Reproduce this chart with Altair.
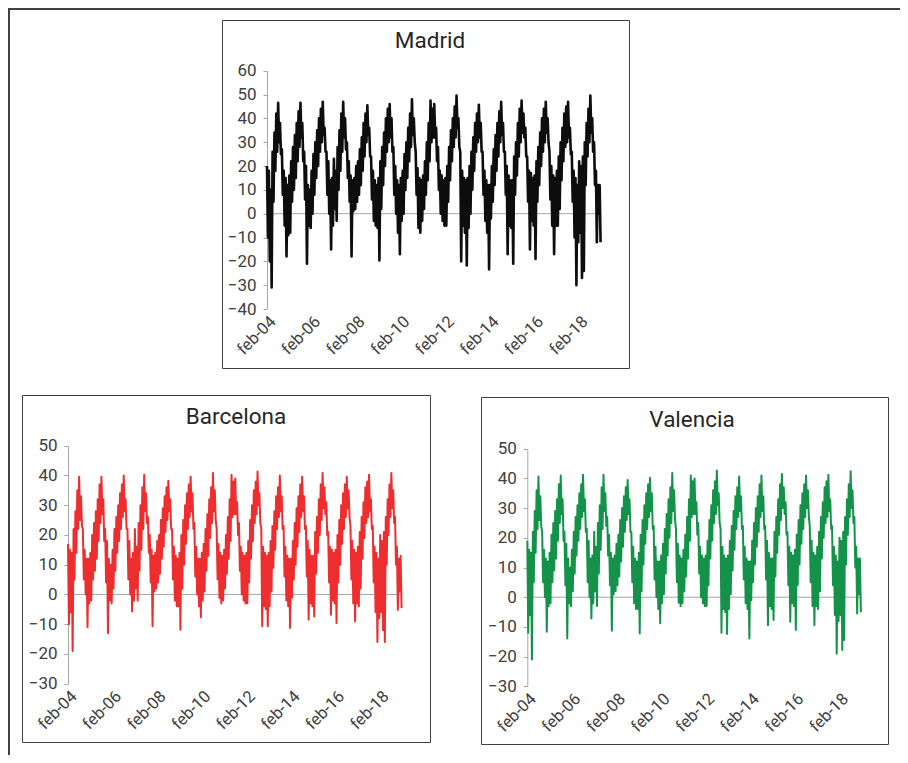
import altair as alt
import pandas as pd

# ---- x axis (months since feb-2004, one high + one low reading per month) ----
tick_values = [0, 24, 48, 72, 96, 120, 144, 168]
tick_labels = ["feb-04", "feb-06", "feb-08", "feb-10", "feb-12", "feb-14", "feb-16", "feb-18"]

# ---- Madrid (rows = feb..jan of each year, 2004..2018) ----
madrid_high = [
    20, 18, 10, 26, 34, 42, 46.5, 38, 27, 18, 15, 12,
    16, 22, 28, 33, 38, 43, 46.5, 38, 26, 20, 12, 10,
    18, 25, 30, 35, 40, 44, 47, 36, 26, 22, 14, 15,
    23, 18, 28, 35, 42, 47, 40, 30, 22, 16, 14, 15,
    20, 22, 27, 32, 38, 42, 45.5, 36, 24, 18, 14, 12,
    15, 22, 28, 34, 40, 44, 46, 40, 28, 20, 14, 12,
    15, 18, 25, 30, 36, 42, 48, 40, 26, 19, 15, 14,
    16, 22, 30, 38, 47.5, 44, 46, 36, 28, 18, 16, 14,
    15, 20, 28, 35, 40, 45, 49.6, 40, 26, 18, 15, 14,
    15, 20, 26, 32, 38, 42, 45.7, 38, 26, 18, 14, 12,
    12, 20, 27, 33, 38, 43, 47, 38, 26, 20, 16, 14,
    14, 24, 30, 38, 44, 47.5, 42, 36, 24, 18, 17, 15,
    16, 22, 28, 34, 40, 44, 47, 40, 26, 20, 16, 15,
    18, 24, 30, 36, 42, 45, 47, 36, 26, 18, 15, 12,
    22, 20, 24, 30, 38, 44, 49.6, 40, 30, 18, 12, 12,
]
madrid_low = [
    -10, -20, -31, 5, 18, 26, 30, 25, 8, -5, -18, -9,
    -8, 5, 10, 15, 22, 28, 32, 22, 6, -21, -5, -6,
    0, 8, 15, 20, 26, 30, 33, 26, 8, 0, -15, -5,
    2, -3, 10, 18, 26, 32, 27, 15, 5, -18, 1, 2,
    5, 8, 12, 18, 24, 30, 33, 24, 6, -3, -5, -6,
    -19.6, 2, 12, 20, 26, 30, 32, 26, 8, 0, -8, -17,
    -3, 0, 10, 15, 22, 28, 33, 30, 8, -6, -8, -3,
    2, 8, 14, 22, 30, 32, 32, 22, 10, 0, -3, -5,
    -5, 5, 14, 22, 28, 32, 36, 28, -20, -5, -8, -21.7,
    -6, 0, 10, 18, 26, 30, 32, 26, 8, -3, -8, -23.4,
    -2, 5, 12, 18, 24, 30, 33, 26, 8, -17, -5, -6,
    -21, 8, 16, 24, 30, 34, 32, 24, 5, -15, -3, -5,
    -19, 5, 12, 20, 26, 30, 34, 30, 6, -5, -17, -5,
    -5, 2, 14, 22, 28, 30, 32, 25, 5, -10, -30, -12,
    -8, -27, -24, 12, 24, 30, 34, 26, 12, -12, 0, -12,
]

# ---- Barcelona ----
barcelona_high = [
    17, 15, 14, 22, 28, 35, 39.6, 33, 22, 15, 12, 12,
    14, 20, 24, 28, 32, 37, 39.6, 32, 22, 18, 12, 10,
    15, 22, 26, 30, 34, 37, 40, 32, 22, 18, 12, 14,
    22, 16, 24, 30, 36, 40.2, 34, 26, 20, 15, 13, 14,
    18, 20, 25, 29, 33, 36, 38.2, 32, 22, 16, 13, 12,
    14, 20, 25, 30, 34, 37, 39.6, 34, 24, 16, 12, 12,
    14, 17, 22, 27, 32, 36, 40.8, 35, 22, 17, 14, 13,
    15, 20, 26, 32, 40.2, 38, 39, 31, 24, 16, 14, 13,
    14, 18, 25, 30, 35, 38, 41.3, 34, 22, 16, 14, 13,
    14, 18, 23, 28, 33, 36, 40, 33, 23, 16, 13, 12,
    12, 18, 24, 29, 33, 37, 39.6, 33, 23, 18, 15, 13,
    13, 21, 26, 32, 37, 40.8, 36, 31, 21, 16, 15, 14,
    15, 20, 25, 30, 34, 37, 39.6, 35, 23, 18, 15, 14,
    16, 21, 26, 31, 36, 38, 40.2, 32, 23, 16, 14, 12,
    20, 18, 21, 26, 32, 37, 40.8, 35, 26, 16, 12, 13,
]
barcelona_low = [
    -10, -6, -19, 5, 14, 22, 25, 23, 5, 0, -11, -3,
    -2, 5, 8, 12, 18, 24, 27, 18, 4, -13, -2, -3,
    2, 8, 14, 18, 22, 26, 28, 22, 5, 0, -5.7, -2,
    2, -2, 8, 15, 22, 28, 24, 14, 4, -10.7, 1, 2,
    4, 7, 12, 16, 21, 25, 28, 22, 5, -2, -4, -4,
    -11.9, 2, 10, 17, 22, 26, 28, 22, 6, 0, -4, -7.7,
    -2, 1, 8, 13, 19, 24, 28, 25, 5, -1.2, -3, -2,
    2, 7, 12, 18, 26, 27, 27, 20, 8, 0, -2, -3,
    -3, 4, 12, 18, 24, 27, 30, 24, -10.7, -4, -5, -10.7,
    -4, 1, 9, 15, 22, 26, 28, 22, 6, -2, -4, -11.3,
    -1, 5, 10, 16, 21, 26, 28, 22, 6, -8.5, -3, -4,
    -7.4, 7, 14, 20, 25, 29, 27, 20, 4, -6.8, -2, -3,
    -9.6, 4, 10, 17, 22, 26, 29, 26, 5, -3, -9.1, -3,
    -4, 2, 12, 19, 24, 26, 28, 22, 4, -6, -16, -8,
    -6, -12, -16, 10, 20, 26, 29, 24, 10, -5.2, 1, -4.6,
]

# ---- Valencia ----
valencia_high = [
    19, 16, 15, 22, 29, 36, 40.6, 34, 22, 16, 13, 12,
    15, 21, 25, 29, 33, 38, 41, 33, 22, 18, 13, 10,
    16, 22, 27, 31, 35, 38, 41.2, 33, 23, 19, 13, 14,
    22, 17, 25, 31, 37, 41.2, 35, 27, 21, 15, 13, 14,
    18, 21, 26, 30, 34, 37, 39.5, 33, 22, 17, 13, 12,
    15, 21, 26, 31, 35, 38, 40.2, 35, 24, 17, 12, 12,
    14, 18, 23, 28, 33, 37, 41.8, 36, 23, 18, 14, 13,
    16, 21, 27, 33, 41, 39, 40, 32, 25, 17, 14, 13,
    14, 19, 26, 31, 36, 39, 42.7, 35, 23, 17, 14, 13,
    14, 19, 24, 29, 34, 37, 40.6, 34, 24, 17, 13, 12,
    12, 19, 25, 30, 34, 38, 41, 34, 24, 19, 15, 13,
    13, 22, 27, 33, 38, 41.5, 37, 32, 22, 17, 15, 14,
    16, 21, 26, 31, 35, 38, 41, 36, 24, 19, 15, 14,
    17, 22, 27, 32, 37, 39, 41.2, 33, 24, 17, 14, 12,
    20, 19, 22, 27, 33, 38, 42.4, 36, 27, 17, 13, 13,
]
valencia_low = [
    -12, -6, -21, 5, 15, 23, 26, 24, 5, 0, -11.6, -3,
    -2, 5, 9, 13, 19, 25, 28, 19, 4, -13.9, -2, -3,
    2, 8, 14, 19, 23, 27, 29, 22, 5, 0, -7.2, -2,
    2, -3, 8, 16, 23, 29, 24, 14, 4, -11.3, 1, 2,
    4, 7, 12, 17, 22, 26, 28, 22, 5, -2, -4, -4,
    -12.2, 2, 11, 18, 23, 27, 29, 23, 6, 0, -4, -8.8,
    -2, 1, 8, 14, 20, 25, 29, 26, 5, -1.9, -3, -2,
    2, 7, 13, 19, 27, 28, 28, 21, 8, 0, -2, -3,
    -3, 4, 13, 19, 25, 28, 31, 25, -12, -4, -5, -12.4,
    -4, 1, 9, 16, 23, 27, 29, 23, 6, -2, -4, -13.9,
    -1, 5, 11, 17, 22, 27, 29, 23, 6, -9.4, -3, -4,
    -7.7, 7, 15, 21, 26, 30, 28, 21, 4, -8.3, -2, -3,
    -11, 4, 11, 18, 23, 27, 30, 27, 5, -3, -9.4, -3,
    -4, 2, 13, 20, 25, 27, 29, 23, 4, -6, -19, -8,
    -6, -17.8, -14.4, 11, 21, 27, 30, 25, 10, -5.5, 1, -5,
]

W, H = 892, 747
PLOT_W = 334.5
FONT = "Roboto"
label_expr = "[" + ",".join("'%s'" % t for t in tick_labels) + "][round(datum.value / 24)]"


def series_frame(high, low):
    rows = []
    for i, (h, l) in enumerate(zip(high, low)):
        rows.append({"m": i, "v": h})
        rows.append({"m": i + 0.5, "v": l})
    return pd.DataFrame(rows)


def panel(high, low, color, sw, ymin, ymax, x0, ytop, ybot):
    df = series_frame(high, low)
    xscale = alt.Scale(domain=[0, 180], range=[x0, x0 + PLOT_W], nice=False, zero=False)
    yscale = alt.Scale(domain=[ymin, ymax], range=[ybot, ytop], nice=False, zero=False)
    xaxis = alt.Axis(orient="bottom", offset=ybot - H, values=tick_values, labelExpr=label_expr,
                     labelAngle=-45, domain=False, ticks=False, grid=False, labelFont=FONT,
                     labelFontSize=16.5, labelColor="#404040", labelPadding=4,
                     labelFlush=False, labelOverlap=False, title=None)
    yaxis = alt.Axis(orient="left", offset=-x0, values=list(range(ymin, ymax + 1, 10)),
                     domainColor="#a6a6a6", tickColor="#a6a6a6", tickSize=4, grid=False,
                     labelFont=FONT, labelFontSize=17, labelColor="#404040", labelPadding=7,
                     labelFlush=False, labelOverlap=False, title=None)
    zero = alt.Chart(pd.DataFrame({"m": [0.0], "v": [0.0]})).mark_rule(
        color="#a6a6a6", strokeWidth=1
    ).encode(
        y=alt.Y("v:Q", scale=yscale, axis=yaxis),
        x=alt.value(x0),
        x2=alt.value(x0 + PLOT_W),
    )
    line = alt.Chart(df).mark_line(color=color, strokeWidth=sw, strokeJoin="round").encode(
        x=alt.X("m:Q", scale=xscale, axis=xaxis),
        y=alt.Y("v:Q", scale=yscale, axis=yaxis),
        order="m:Q",
    )
    return alt.layer(zero, line)


one = pd.DataFrame({"a": [0]})


def box(x1, y1, x2, y2, color="#404040", sw=1):
    return alt.Chart(one).mark_rect(filled=False, color=color, strokeWidth=sw).encode(
        x=alt.value(x1), x2=alt.value(x2), y=alt.value(y1), y2=alt.value(y2)
    )


def title(text, x, y):
    return alt.Chart(one).mark_text(
        text=text, font=FONT, fontSize=22.5, color="#262626", align="center", baseline="alphabetic"
    ).encode(x=alt.value(x), y=alt.value(y))


madrid = panel(madrid_high, madrid_low, "#0d0d0d", 2.6, -40, 60, 259, 62.7, 301)
barcelona = panel(barcelona_high, barcelona_low, "#ee2e2e", 2.0, -30, 50, 60, 437.7, 675.7)
valencia = panel(valencia_high, valencia_low, "#14924a", 2.0, -30, 50, 519.3, 440.7, 678.3)

frame_top = alt.Chart(one).mark_rule(color="#404040", strokeWidth=2).encode(
    x=alt.value(0), x2=alt.value(W), y=alt.value(1)
)
frame_left = alt.Chart(one).mark_rule(color="#404040", strokeWidth=2).encode(
    x=alt.value(1), y=alt.value(0), y2=alt.value(H)
)

deco = alt.layer(
    box(214.5, 12.5, 621.5, 360.5),
    box(14.5, 387.5, 422.5, 734.5),
    box(473.5, 389.5, 880.5, 736.5),
    title("Madrid", 422, 40.3),
    title("Barcelona", 228, 416.3),
    title("Valencia", 684, 419),
    frame_top,
    frame_left,
)

chart = alt.layer(madrid, barcelona, valencia, deco).resolve_scale(
    x="independent", y="independent"
).properties(
    width=W, height=H, padding=0,
    autosize=alt.AutoSizeParams(type="none"),
    background="white",
).configure_view(strokeOpacity=0)

chart.save("out.html", embed_options={"renderer": "svg", "actions": False})
